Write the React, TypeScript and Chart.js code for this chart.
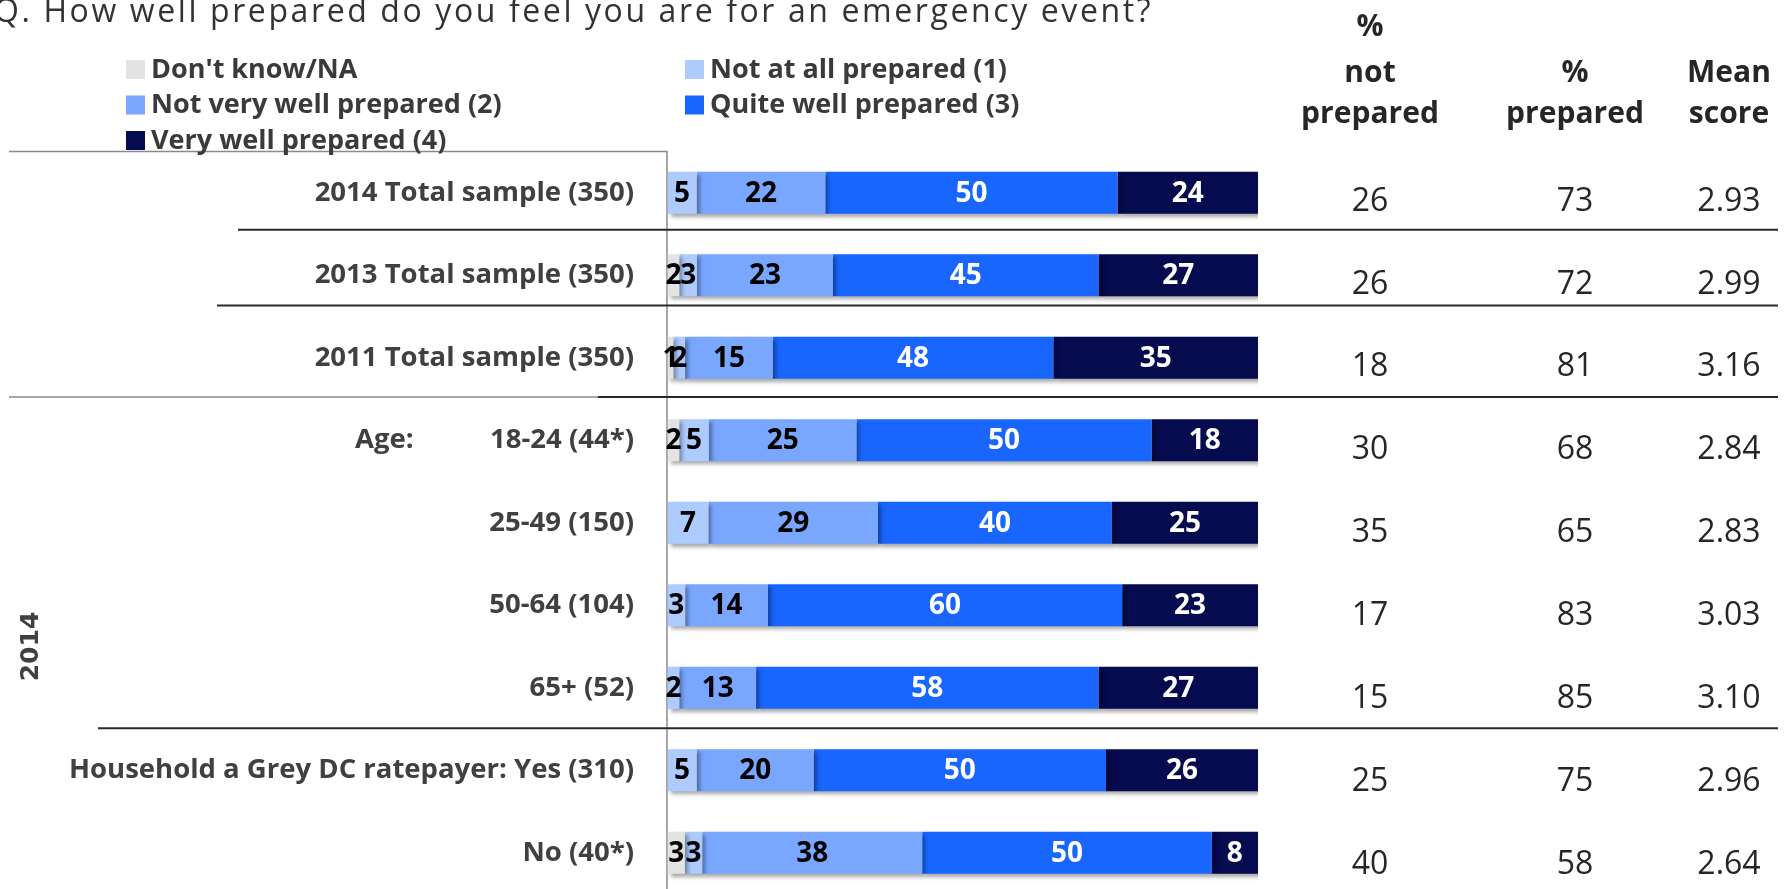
import React, { useEffect, useRef } from "react";
import { Chart, registerables } from "chart.js";

Chart.register(...registerables);

// ---------- data ----------
const TITLE = "Q. How well prepared do you feel you are for an emergency event?";
const categories = [
  "2014 Total sample (350)",
  "2013 Total sample (350)",
  "2011 Total sample (350)",
  "18-24 (44*)",
  "25-49 (150)",
  "50-64 (104)",
  "65+ (52)",
  "Household a Grey DC ratepayer: Yes (310)",
  "No (40*)",
];
const seriesNames = [
  "Don't know/NA",
  "Not at all prepared (1)",
  "Not very well prepared (2)",
  "Quite well prepared (3)",
  "Very well prepared (4)",
];
const dontKnow = [0, 2, 1, 2, 0, 0, 0, 0, 3];
const notAtAll = [5, 3, 2, 5, 7, 3, 2, 5, 3];
const notVeryWell = [22, 23, 15, 25, 29, 14, 13, 20, 38];
const quiteWell = [50, 45, 48, 50, 40, 60, 58, 50, 50];
const veryWell = [24, 27, 35, 18, 25, 23, 27, 26, 8];
const pctNotPrepared = ["26", "26", "18", "30", "35", "17", "15", "25", "40"];
const pctPrepared = ["73", "72", "81", "68", "65", "83", "85", "75", "58"];
const meanScore = ["2.93", "2.99", "3.16", "2.84", "2.83", "3.03", "3.10", "2.96", "2.64"];
const headerNotPrepared = ["%", "not", "prepared"];
const headerPrepared = ["%", "prepared"];
const headerMean = ["Mean", "score"];
const groupLabel = "2014";
const ageLabel = "Age:";

const seriesColors = ["#e3e3e3", "#aecbfd", "#79a6fe", "#1866fe", "#060a4e"];
const labelColors = ["#000000", "#000000", "#000000", "#ffffff", "#ffffff"];

const rawSeries = [dontKnow, notAtAll, notVeryWell, quiteWell, veryWell];
const rowTotals = categories.map((_, i) => rawSeries.reduce((s, arr) => s + arr[i], 0));

const W = 1789;
const H = 894;
const FONT = '"Open Sans", "DejaVu Sans", sans-serif';

const decorPlugin = {
  id: "decor",
  beforeDatasetsDraw(chart: any) {
    const ctx = chart.ctx as CanvasRenderingContext2D;
    const { left, top } = chart.chartArea;
    const ys = chart.scales.y;
    ctx.save();
    // frame: top line + vertical axis
    ctx.strokeStyle = "#8a8a8a";
    ctx.lineWidth = 1.5;
    ctx.beginPath();
    ctx.moveTo(9, top);
    ctx.lineTo(left - 0.5, top);
    ctx.lineTo(left - 0.5, chart.height);
    ctx.stroke();
    // grey lower frame line under 2011
    const yFrame = ys.getPixelForValue(2.476);
    ctx.beginPath();
    ctx.moveTo(9, yFrame);
    ctx.lineTo(left - 0.5, yFrame);
    ctx.stroke();
    // dark separators
    const seps = [
      { v: 0.448, x0: 238 },
      { v: 1.367, x0: 217 },
      { v: 2.476, x0: 598 },
      { v: 6.49, x0: 98 },
    ];
    ctx.strokeStyle = "#2a2a2a";
    ctx.lineWidth = 2;
    seps.forEach((s) => {
      const yy = ys.getPixelForValue(s.v);
      ctx.beginPath();
      ctx.moveTo(s.x0, yy);
      ctx.lineTo(1778, yy);
      ctx.stroke();
    });
    ctx.restore();
    // shadow for bars
    ctx.save();
    ctx.shadowColor = "rgba(0,0,0,0.35)";
    ctx.shadowBlur = 4;
    ctx.shadowOffsetX = 3;
    ctx.shadowOffsetY = 3;
  },
  afterDatasetsDraw(chart: any) {
    const ctx = chart.ctx as CanvasRenderingContext2D;
    ctx.restore();
    ctx.save();
    ctx.font = `bold 28px ${FONT}`;
    ctx.textAlign = "center";
    ctx.textBaseline = "middle";
    rawSeries.forEach((arr, d) => {
      const meta = chart.getDatasetMeta(d);
      meta.data.forEach((bar: any, i: number) => {
        const v = arr[i];
        if (!v) return;
        const p = bar.getProps(["x", "y", "base"], true);
        ctx.fillStyle = labelColors[d];
        ctx.fillText(String(v), (p.x + p.base) / 2, p.y + 1);
      });
    });
    ctx.restore();
  },
  afterDraw(chart: any) {
    const ctx = chart.ctx as CanvasRenderingContext2D;
    const ys = chart.scales.y;
    ctx.save();
    // title
    ctx.fillStyle = "#333333";
    ctx.font = `32px ${FONT}`;
    ctx.textAlign = "left";
    ctx.textBaseline = "alphabetic";
    (ctx as any).letterSpacing = "2.6px";
    ctx.fillText(TITLE, -6, 22);
    (ctx as any).letterSpacing = "0px";

    // legend
    const legendPos = [
      { col: 0, row: 0 },
      { col: 1, row: 0 },
      { col: 0, row: 1 },
      { col: 1, row: 1 },
      { col: 0, row: 2 },
    ];
    const colX = [126, 685];
    const rowY = [60, 95.5, 131];
    ctx.font = `bold 27px ${FONT}`;
    seriesNames.forEach((name, d) => {
      const { col, row } = legendPos[d];
      ctx.fillStyle = seriesColors[d];
      ctx.fillRect(colX[col], rowY[row], 19, 19);
      ctx.fillStyle = "#3a3a3a";
      ctx.fillText(name, colX[col] + 25, rowY[row] + 17.5);
    });

    // headers
    ctx.fillStyle = "#262626";
    ctx.font = `bold 30px ${FONT}`;
    ctx.textAlign = "center";
    const colCenters = [1370, 1575, 1729];
    const headerBase = [36, 82, 123];
    const headers = [headerNotPrepared, headerPrepared, headerMean];
    headers.forEach((lines, c) => {
      const start = headerBase.length - lines.length;
      lines.forEach((t, k) => ctx.fillText(t, colCenters[c], headerBase[start + k]));
    });

    // right-side table values
    ctx.font = `32px ${FONT}`;
    const cols = [pctNotPrepared, pctPrepared, meanScore];
    categories.forEach((_, i) => {
      const yy = ys.getPixelForValue(i) + 18 + i * 0.35;
      cols.forEach((arr, c) => ctx.fillText(arr[i], colCenters[c], yy));
    });

    // "Age:" label
    ctx.fillStyle = "#404040";
    ctx.font = `bold 27.5px ${FONT}`;
    ctx.textAlign = "left";
    ctx.textBaseline = "middle";
    ctx.fillText(ageLabel, 355, ys.getPixelForValue(3));

    // rotated group label
    const gy = (ys.getPixelForValue(3) + ys.getPixelForValue(8)) / 2;
    ctx.translate(31, gy);
    ctx.rotate(-Math.PI / 2);
    ctx.font = `bold 25px "DejaVu Sans", sans-serif`;
    ctx.textAlign = "center";
    ctx.fillText(groupLabel, 0, 0);
    ctx.restore();
  },
};

export default function App() {
  const ref = useRef<HTMLCanvasElement | null>(null);
  useEffect(() => {
    let chart: Chart | null = null;
    let cancelled = false;
    const make = () => {
      if (cancelled || !ref.current) return;
      chart = new Chart(ref.current, {
        type: "bar",
        data: {
          labels: categories,
          datasets: rawSeries.map((arr, d) => ({
            label: seriesNames[d],
            data: arr.map((v, i) => (v / rowTotals[i]) * 100),
            backgroundColor: seriesColors[d],
            borderWidth: 0,
            categoryPercentage: 1,
            barPercentage: 0.508,
          })),
        },
        options: {
          indexAxis: "y",
          responsive: false,
          animation: false,
          devicePixelRatio: 1,
          layout: { padding: { left: 0, right: 531, top: 151.5, bottom: 0 } },
          plugins: { legend: { display: false }, tooltip: { enabled: false } },
          scales: {
            x: { stacked: true, min: 0, max: 100, display: false },
            y: {
              stacked: true,
              grid: { display: false, drawTicks: false },
              border: { display: false },
              ticks: {
                autoSkip: false,
                padding: 33.5,
                color: "#404040",
                font: { family: FONT, weight: "bold", size: 27.5 },
              },
              afterFit: (s: any) => {
                s.width = 667.5;
                s.paddingTop = 0;
                s.paddingBottom = 0;
              },
            },
          },
        },
        plugins: [decorPlugin],
      } as any);
    };
    const fonts = (document as any).fonts;
    if (fonts && fonts.load) {
      Promise.all([
        fonts.load(`bold 27px "Open Sans"`),
        fonts.load(`27px "Open Sans"`),
        fonts.load(`bold 24px "DejaVu Sans"`),
      ])
        .catch(() => null)
        .then(make);
    } else make();
    return () => {
      cancelled = true;
      if (chart) chart.destroy();
    };
  }, []);
  return (
    <div
      style={{
        position: "fixed",
        left: 0,
        top: 0,
        width: W,
        height: 889,
        overflow: "hidden",
        background: "#ffffff",
      }}
    >
      <canvas ref={ref} width={W} height={H} style={{ display: "block", width: W, height: H }} />
    </div>
  );
}
